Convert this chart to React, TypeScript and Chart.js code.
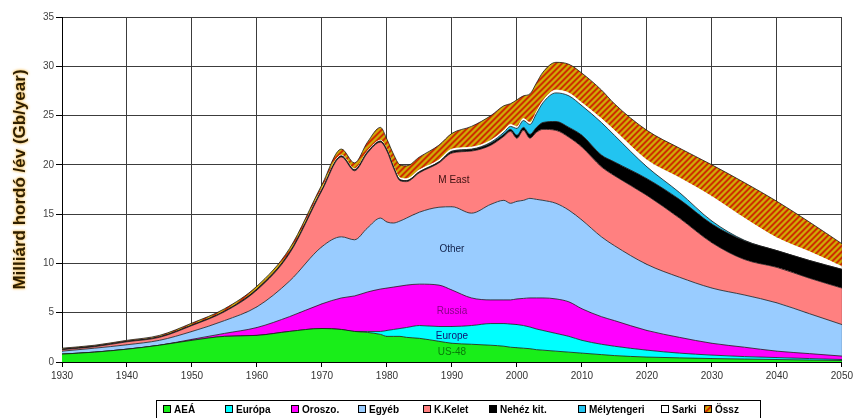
import React, { useEffect, useRef } from 'react';
import { Chart, registerables } from 'chart.js';
Chart.register(...registerables);

// ---- data (Gb/year, per layer) ----
const years = [1930, 1935, 1940, 1945, 1950, 1955, 1960, 1965, 1970, 1973, 1975, 1977, 1979, 1980, 1981, 1982, 1983, 1985, 1988, 1990, 1993, 1996, 1998, 1999, 2000, 2001, 2002, 2003, 2004, 2006, 2008, 2010, 2013, 2015, 2020, 2025, 2030, 2035, 2040, 2045, 2050];
const us48 =       [0.8, 1.0, 1.3, 1.7, 2.2, 2.6, 2.7, 3.1, 3.4, 3.3, 3.1, 3.0, 2.8, 2.6, 2.6, 2.6, 2.5, 2.4, 2.1, 1.9, 1.8, 1.7, 1.6, 1.5, 1.45, 1.4, 1.35, 1.25, 1.2, 1.1, 1.0, 0.9, 0.75, 0.65, 0.5, 0.42, 0.35, 0.3, 0.25, 0.2, 0.15];
const europe =     [0, 0, 0, 0, 0, 0, 0, 0, 0, 0, 0, 0.1, 0.3, 0.6, 0.7, 0.8, 1.0, 1.3, 1.5, 1.7, 1.9, 2.2, 2.3, 2.35, 2.35, 2.3, 2.2, 2.1, 2.0, 1.8, 1.6, 1.3, 1.05, 0.95, 0.7, 0.48, 0.35, 0.25, 0.2, 0.15, 0.1];
const russia =     [0, 0, 0, 0, 0.1, 0.3, 0.8, 1.5, 2.5, 3.2, 3.6, 4.0, 4.3, 4.3, 4.3, 4.3, 4.3, 4.2, 4.2, 3.7, 2.8, 2.4, 2.4, 2.45, 2.6, 2.75, 2.95, 3.15, 3.3, 3.5, 3.5, 3.2, 2.8, 2.6, 2.0, 1.6, 1.2, 0.95, 0.65, 0.5, 0.35];
const other =      [0.3, 0.4, 0.45, 0.5, 0.8, 1.3, 2.1, 3.6, 5.8, 6.2, 5.7, 6.5, 7.2, 6.7, 6.5, 6.6, 6.8, 7.3, 7.9, 8.45, 8.6, 9.7, 10.1, 9.8, 9.9, 9.95, 10.1, 10.0, 9.9, 9.7, 9.3, 9.0, 8.1, 7.6, 6.7, 6.1, 5.6, 5.3, 4.9, 4.05, 3.2];
const mEast =      [0.15, 0.15, 0.3, 0.3, 0.6, 0.9, 1.7, 2.8, 5.7, 8.1, 7.0, 7.6, 7.7, 7.2, 5.6, 4.1, 3.7, 4.0, 4.5, 5.45, 6.3, 6.0, 6.5, 7.3, 6.4, 7.1, 6.1, 6.8, 7.2, 7.4, 7.4, 7.4, 7.1, 7.1, 7.0, 6.0, 4.6, 3.6, 3.6, 3.6, 3.7];
const heavy =      [0.05, 0.05, 0.05, 0.05, 0.05, 0.05, 0.1, 0.1, 0.1, 0.1, 0.1, 0.1, 0.1, 0.1, 0.1, 0.1, 0.1, 0.1, 0.1, 0.15, 0.15, 0.2, 0.2, 0.2, 0.3, 0.3, 0.4, 0.5, 0.7, 0.9, 1.0, 1.2, 1.2, 1.4, 1.7, 1.9, 1.9, 1.9, 1.7, 1.8, 1.9];
const deepwater =  [0, 0, 0, 0, 0, 0, 0, 0, 0, 0, 0, 0, 0, 0, 0, 0, 0, 0, 0, 0.05, 0.05, 0.1, 0.2, 0.3, 0.7, 0.7, 1.0, 1.4, 2.0, 2.9, 3.2, 3.0, 3.3, 2.7, 1.2, 0.7, 0.3, 0.05, 0, 0, 0];
const polar =      [0, 0, 0, 0, 0, 0, 0, 0, 0.1, 0.1, 0.1, 0.1, 0.1, 0.1, 0.1, 0.2, 0.2, 0.2, 0.2, 0.2, 0.2, 0.2, 0.2, 0.2, 0.2, 0.2, 0.2, 0.2, 0.2, 0.3, 0.3, 0.3, 0.4, 0.5, 0.7, 1.5, 2.5, 2.25, 1.3, 0.9, 0.3];
const gasLiquids = [0.1, 0.1, 0.1, 0.15, 0.2, 0.25, 0.3, 0.4, 0.4, 0.6, 0.6, 0.9, 1.3, 1.0, 1.2, 1.3, 1.3, 1.3, 1.5, 1.6, 2.1, 2.5, 2.5, 2.1, 2.7, 2.3, 2.9, 2.9, 2.9, 2.8, 2.9, 3.0, 2.9, 2.7, 3.0, 3.0, 3.2, 3.6, 3.7, 3.0, 2.3];

const legendLabels = ['AEÁ', 'Európa', 'Oroszo.', 'Egyéb', 'K.Kelet', 'Nehéz kit.', 'Mélytengeri', 'Sarki', 'Össz'];
const areaLabels = ['US-48', 'Europe', 'Russia', 'Other', 'M East'];
const areaLabelYears = [1990, 1990, 1990, 1990, 1990.3];
const areaLabelValues = [1.0, 2.6, 5.1, 11.4, 18.4];
const yTitle = 'Milliárd hordó /év (Gb/year)';

const seriesValues = [us48, europe, russia, other, mEast, heavy, deepwater, polar, gasLiquids];
const fillColors = ['#19ee19', '#00ffff', '#ff00ff', '#99ccff', '#ff8080', '#000000', '#22c4f0', '#ffffff', 'HATCH'];
const areaLabelColors = ['#0a7a0a', '#101070', '#8a008a', '#10204a', '#3a1010'];
const legendX = [163, 225, 291, 358, 423, 489, 578, 661, 704];

function makeHatch(ctx: CanvasRenderingContext2D) {
  const c = document.createElement('canvas');
  const n = 6;
  c.width = n; c.height = n;
  const g = c.getContext('2d')!;
  const img = g.createImageData(n, n);
  for (let y = 0; y < n; y++) {
    for (let x = 0; x < n; x++) {
      const i = (y * n + x) * 4;
      const k = (x + y) % n;
      const red = k < 2;
      const edge = k === 2 || k === 5;
      img.data[i] = red ? 206 : edge ? 205 : 208;
      img.data[i + 1] = red ? 44 : edge ? 120 : 168;
      img.data[i + 2] = red ? 0 : edge ? 0 : 8;
      img.data[i + 3] = 255;
    }
  }
  g.putImageData(img, 0, 0);
  return ctx.createPattern(c, 'repeat')!;
}

const extrasPlugin = {
  id: 'extras',
  afterDraw(chart: any) {
    const ctx: CanvasRenderingContext2D = chart.ctx;
    const { chartArea, scales } = chart;
    // area labels
    ctx.save();
    ctx.font = '10px "Liberation Sans", Arial, sans-serif';
    ctx.textAlign = 'center';
    ctx.textBaseline = 'middle';
    areaLabels.forEach((t, i) => {
      ctx.fillStyle = areaLabelColors[i];
      ctx.fillText(t, scales.x.getPixelForValue(areaLabelYears[i]), scales.y.getPixelForValue(areaLabelValues[i]));
    });
    ctx.restore();
    // y title
    ctx.save();
    ctx.translate(20, (chartArea.top + chartArea.bottom) / 2 - 10);
    ctx.rotate(-Math.PI / 2);
    ctx.font = 'bold 17px "Liberation Sans", Arial, sans-serif';
    ctx.textAlign = 'center';
    ctx.textBaseline = 'middle';
    ctx.shadowColor = '#f0a000';
    ctx.shadowBlur = 3;
    ctx.fillStyle = '#2e1e00';
    ctx.fillText(yTitle, 0, 0);
    ctx.restore();
    // legend
    ctx.save();
    ctx.strokeStyle = '#000';
    ctx.lineWidth = 1;
    ctx.strokeRect(156.5, 400.5, 604, 30);
    ctx.font = 'bold 10px "Liberation Sans", Arial, sans-serif';
    ctx.textBaseline = 'alphabetic';
    ctx.textAlign = 'left';
    const ds = chart.data.datasets;
    legendLabels.forEach((t, i) => {
      const x = legendX[i];
      ctx.fillStyle = ds[i].backgroundColor;
      ctx.fillRect(x, 405, 8, 8);
      ctx.strokeStyle = '#000';
      ctx.strokeRect(x + 0.5, 405.5, 7, 7);
      ctx.fillStyle = '#000';
      ctx.fillText(t, x + 11, 413);
    });
    ctx.restore();
  },
};

export default function App() {
  const ref = useRef<HTMLCanvasElement>(null);
  useEffect(() => {
    const canvas = ref.current!;
    const ctx = canvas.getContext('2d')!;
    const hatch = makeHatch(ctx);
    const datasets = seriesValues.map((vals, i) => ({
      label: legendLabels[i],
      data: vals.map((v, j) => ({ x: years[j], y: v })),
      backgroundColor: fillColors[i] === 'HATCH' ? hatch : fillColors[i],
      borderColor: i === 7 ? '#ffffff' : '#1a1a1a',
      borderWidth: i === 7 ? 0.5 : 0.8,
      fill: i === 0 ? 'origin' : '-1',
      pointRadius: 0,
      cubicInterpolationMode: 'monotone' as const,
    }));
    const chart = new Chart(ctx, {
      type: 'line',
      data: { datasets },
      options: {
        animation: false,
        responsive: false,
        events: [],
        layout: { padding: { top: 17, right: 13, left: 0, bottom: 0 } },
        plugins: { legend: { display: false }, tooltip: { enabled: false } },
        scales: {
          x: {
            type: 'linear',
            min: 1930,
            max: 2050,
            ticks: { stepSize: 10, color: '#333', font: { size: 10, family: '"Liberation Sans", Arial' }, padding: 3, maxRotation: 0, callback: (v: any) => String(v) },
            grid: { color: '#3c3c3c', lineWidth: 1, tickLength: 5, tickColor: '#000' },
            border: { display: true, color: '#000' },
            afterFit: (s: any) => { s.height = 56; },
          },
          y: {
            stacked: true,
            min: 0,
            max: 35,
            ticks: { stepSize: 5, color: '#444', font: { size: 10, family: '"Liberation Sans", Arial' }, padding: 2 },
            grid: { color: '#3c3c3c', lineWidth: 1, tickLength: 6, tickColor: '#000' },
            border: { display: true, color: '#000' },
            afterFit: (s: any) => { s.width = 62; },
          },
        },
      },
      plugins: [extrasPlugin],
    });
    return () => chart.destroy();
  }, []);
  return (
    <div style={{ position: 'fixed', left: 0, top: 0, width: 856, height: 418, background: '#fff' }}>
      <canvas ref={ref} width={856} height={418} />
    </div>
  );
}
